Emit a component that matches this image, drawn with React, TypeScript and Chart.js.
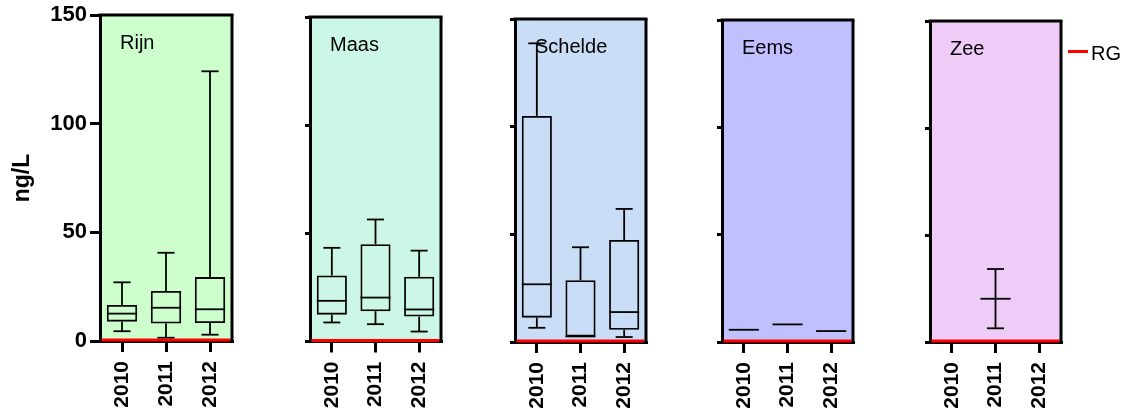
import React, { useEffect, useRef } from 'react';
import { Chart, registerables } from 'chart.js';

Chart.register(...registerables);

// Categories and axis
const YEARS = ['2010', '2011', '2012'];
const Y_MIN = 0;
const Y_MAX = 150;
const Y_STEP = 50;
const AXIS_TITLE = 'ng/L';

// Reference level (RG) drawn as a red line in every panel
const RG_LABEL = 'RG';
const RG_VALUE = 0.5;

// Five-number summaries per year: [min, q1, median, q3, max]
type Summary = number[] | null;
const rijn: Summary[] = [
  [4.5, 8.9, 12.6, 16.6, 27.0],
  [1.5, 8.0, 15.3, 23.0, 40.6],
  [2.9, 8.3, 14.6, 29.4, 124.1],
];
const maas: Summary[] = [
  [8.8, 12.4, 18.8, 30.5, 43.3],
  [8.0, 14.0, 20.3, 45.0, 56.4],
  [4.6, 11.5, 14.8, 29.9, 42.0],
];
const schelde: Summary[] = [
  [6.6, 11.3, 26.8, 105.0, 138.7],
  [2.5, 2.5, 2.6, 28.7, 44.0],
  [2.3, 5.7, 13.9, 47.4, 61.8],
];
const eems: Summary[] = [
  [5.7, 5.7, 5.7, 5.7, 5.7],
  [8.2, 8.2, 8.2, 8.2, 8.2],
  [5.1, 5.1, 5.1, 5.1, 5.1],
];
const zee: Summary[] = [
  null,
  [6.4, 20.2, 20.2, 20.2, 34.1],
  null,
];

const REGION_NAMES = ['Rijn', 'Maas', 'Schelde', 'Eems', 'Zee'];
const REGION_DATA = [rijn, maas, schelde, eems, zee];

// Panel placement and colours
const PANEL_LAYOUT = [
  { left: 100, right: 232, top: 15, bottom: 341, color: '#ccffcc' },
  { left: 310, right: 441, top: 17, bottom: 341.5, color: '#ccf7e6' },
  { left: 515, right: 646, top: 19, bottom: 342, color: '#c9ddf7' },
  { left: 722, right: 853, top: 20, bottom: 342, color: '#c0c0ff' },
  { left: 930, right: 1061, top: 21, bottom: 342, color: '#eeccf7' },
];

const PAGE_W = 1135;
const PAGE_H = 412;
const FONT = "'Liberation Sans', Arial, Helvetica, sans-serif";
const BAR_FRACTION = 0.69;
const CAP_FRACTION = 0.39;
const MARK_WIDTH = 1.8;

const panelDecor = {
  id: 'panelDecor',
  beforeDraw(chart: any, _args: any, opts: any) {
    const { ctx, chartArea: a } = chart;
    ctx.save();
    ctx.fillStyle = opts.background;
    ctx.fillRect(a.left, a.top, a.right - a.left, a.bottom - a.top);
    ctx.restore();
  },
  afterDatasetsDraw(chart: any, _args: any, opts: any) {
    const { ctx, chartArea: a, scales } = chart;
    const x = scales.x;
    const y = scales.y;
    const line = (x1: number, y1: number, x2: number, y2: number) => {
      ctx.beginPath();
      ctx.moveTo(x1, y1);
      ctx.lineTo(x2, y2);
      ctx.stroke();
    };
    ctx.save();

    // whiskers, caps and medians
    const step = x.getPixelForValue(1) - x.getPixelForValue(0);
    const boxW = step * BAR_FRACTION;
    const capW = step * CAP_FRACTION;
    ctx.strokeStyle = '#000';
    ctx.lineWidth = MARK_WIDTH;
    (opts.stats as Summary[]).forEach((s, i) => {
      if (!s) return;
      const cx = x.getPixelForValue(i);
      const [pMin, pQ1, pMed, pQ3, pMax] = s.map((v) => y.getPixelForValue(v));
      if (pMax < pQ3 - 0.5) {
        line(cx, pQ3, cx, pMax);
        line(cx - capW / 2, pMax, cx + capW / 2, pMax);
      }
      if (pMin > pQ1 + 0.5) {
        line(cx, pQ1, cx, pMin);
        line(cx - capW / 2, pMin, cx + capW / 2, pMin);
      }
      line(cx - boxW / 2, pMed, cx + boxW / 2, pMed);
    });

    // RG reference line
    const ry = y.getPixelForValue(RG_VALUE);
    ctx.strokeStyle = '#ff0000';
    ctx.lineWidth = 3;
    line(a.left + 1.5, ry, a.right - 1.5, ry);

    // top and right frame
    ctx.strokeStyle = '#000';
    ctx.lineWidth = 3;
    line(a.left - 1.5, a.top, a.right + 1.5, a.top);
    line(a.right, a.top, a.right, a.bottom + 1.5);

    // panel title
    ctx.fillStyle = '#000';
    ctx.font = `20px ${FONT}`;
    ctx.textAlign = 'left';
    ctx.textBaseline = 'alphabetic';
    ctx.fillText(opts.title, a.left + 20, a.top + 34);

    // legend entry
    if (opts.legend) {
      ctx.strokeStyle = '#ff0000';
      ctx.lineWidth = 3;
      line(a.right + 7, a.top + 30.5, a.right + 27, a.top + 30.5);
      ctx.fillStyle = '#000';
      ctx.fillText(RG_LABEL, a.right + 30, a.top + 39);
    }
    ctx.restore();
  },
};

function Panel({ index }: { index: number }) {
  const ref = useRef<HTMLCanvasElement>(null);
  const lay = PANEL_LAYOUT[index];
  const first = index === 0;
  const last = index === PANEL_LAYOUT.length - 1;
  const yW = first ? 100 : 10;
  const x0 = lay.left - yW;
  const padRight = last ? PAGE_W - lay.right : 4;
  const W = lay.right + padRight - x0;

  useEffect(() => {
    if (!ref.current) return;
    const stats = REGION_DATA[index];
    const boxes = stats.map((s) => (s ? [s[1], s[3]] : null));
    const chart = new Chart(ref.current, {
      type: 'bar',
      data: {
        labels: YEARS,
        datasets: [
          {
            label: REGION_NAMES[index],
            data: boxes as any,
            backgroundColor: 'rgba(0,0,0,0)',
            borderColor: '#000',
            borderWidth: MARK_WIDTH,
            borderSkipped: false,
            barPercentage: BAR_FRACTION,
            categoryPercentage: 1,
          },
        ],
      },
      options: {
        responsive: false,
        animation: false,
        devicePixelRatio: 1,
        layout: { padding: { left: 0, right: padRight, top: lay.top, bottom: 0 } },
        plugins: {
          legend: { display: false },
          tooltip: { enabled: false },
          panelDecor: {
            background: lay.color,
            stats,
            title: REGION_NAMES[index],
            legend: last,
          },
        } as any,
        scales: {
          x: {
            type: 'category',
            offset: true,
            grid: {
              display: true,
              drawOnChartArea: false,
              drawTicks: true,
              tickLength: 11,
              lineWidth: 3,
              color: '#000',
              offset: false,
            },
            border: { display: true, width: 3, color: '#000' },
            ticks: {
              autoSkip: false,
              maxRotation: 90,
              minRotation: 90,
              padding: 9,
              color: '#000',
              font: { family: FONT, size: 21, weight: 'bold' },
            },
            afterFit: (s: any) => {
              s.height = PAGE_H - lay.bottom;
              s.paddingLeft = 0;
              s.paddingRight = 0;
            },
          },
          y: {
            min: Y_MIN,
            max: Y_MAX,
            ticks: {
              stepSize: Y_STEP,
              display: first,
              padding: 3,
              color: '#000',
              font: { family: FONT, size: 22, weight: 'bold' },
            },
            grid: {
              display: true,
              drawOnChartArea: false,
              drawTicks: true,
              tickLength: first ? 10 : 5,
              lineWidth: 3,
              color: '#000',
            },
            border: { display: true, width: 3, color: '#000' },
            title: {
              display: first,
              text: AXIS_TITLE,
              color: '#000',
              font: { family: FONT, size: 23, weight: 'bold' },
              padding: { top: 9, bottom: 0 },
            },
            afterFit: (s: any) => {
              s.width = yW;
              s.paddingTop = 0;
              s.paddingBottom = 0;
            },
          },
        },
      } as any,
      plugins: [panelDecor],
    });
    return () => chart.destroy();
  }, [index]);

  return (
    <canvas
      ref={ref}
      width={W}
      height={PAGE_H}
      style={{ position: 'absolute', left: x0, top: 0, width: W, height: PAGE_H }}
    />
  );
}

export default function App() {
  return (
    <div
      style={{
        position: 'fixed',
        left: 0,
        top: 0,
        width: PAGE_W,
        height: PAGE_H,
        background: '#fff',
        overflow: 'hidden',
      }}
    >
      {REGION_NAMES.map((name, i) => (
        <Panel key={name} index={i} />
      ))}
    </div>
  );
}
